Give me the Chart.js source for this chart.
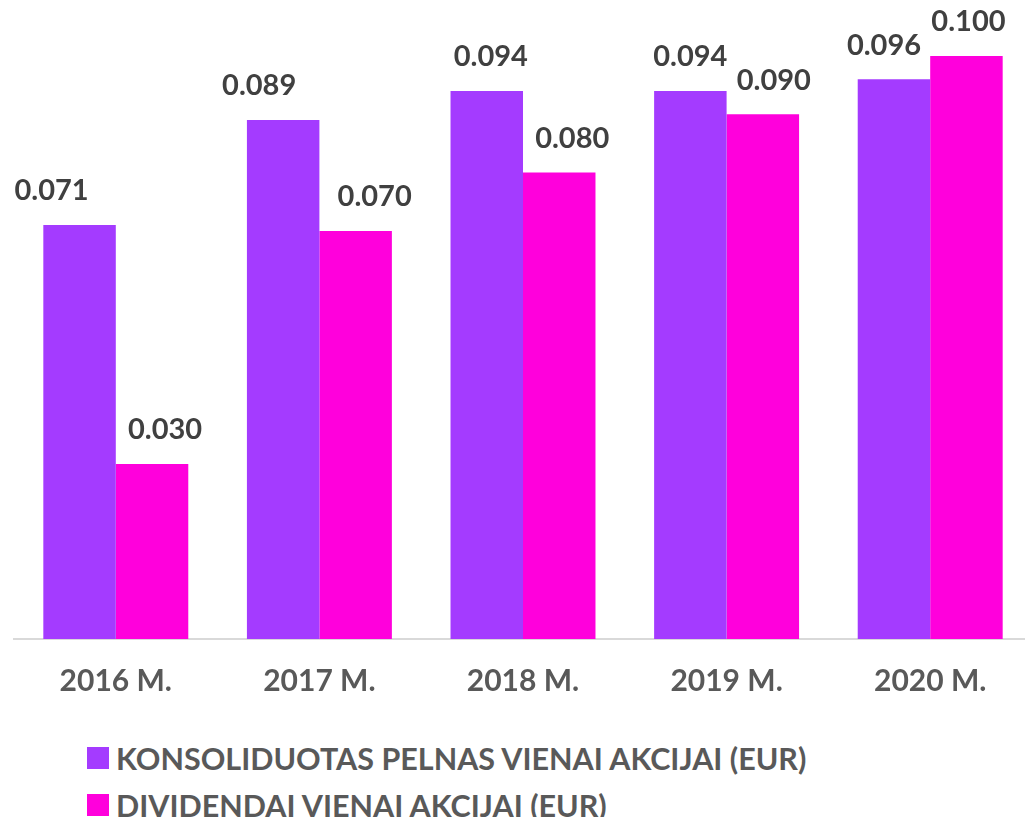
<!DOCTYPE html>
<html>
<head>
<meta charset="utf-8">
<script src="https://cdn.jsdelivr.net/npm/chart.js@4/dist/chart.umd.min.js"></script>
<style>
  html, body { margin: 0; padding: 0; background: #fff; overflow: hidden; }
  #wrap { position: absolute; left: 0; top: 0; width: 1040px; height: 724px; }
  #legend { position: absolute; left: 87px; top: 734px; font-family: Lato, sans-serif; font-weight: bold; font-size: 30.5px; color: #595959; }
  .item { height: 47px; display: flex; align-items: center; }
  .box { width: 22px; height: 22px; margin-right: 7px; }
</style>
</head>
<body>
<div id="wrap"><canvas id="chart"></canvas></div>
<div id="legend"></div>
<script>
// years on the x axis
var years = ["2016 M.", "2017 M.", "2018 M.", "2019 M.", "2020 M."];
// consolidated earnings per share
var earnings = [0.071, 0.089, 0.094, 0.094, 0.096];
// dividends per share
var dividends = [0.030, 0.070, 0.080, 0.090, 0.100];

var seriesNames = ["KONSOLIDUOTAS PELNAS VIENAI AKCIJAI (EUR)", "DIVIDENDAI VIENAI AKCIJAI (EUR)"];
var colors = ["#A43BFF", "#FF00DC"];
// small horizontal nudges of the value labels, like the original
var labelShift = [[-28, -24, 4, 0, -10], [13, 19, 13, 11, 2]];

/**
 * draws the value above every bar
 */
var valueLabels = {
    id: 'valueLabels',
    afterDatasetsDraw: function(chart) {
        var ctx = chart.ctx;
        ctx.save();
        ctx.font = "bold 29px Lato, sans-serif";
        ctx.fillStyle = "#404040";
        ctx.textAlign = "center";
        ctx.textBaseline = "middle";
        chart.data.datasets.forEach(function(ds, i) {
            var meta = chart.getDatasetMeta(i);
            meta.data.forEach(function(bar, j) {
                ctx.fillText(ds.data[j].toFixed(3), bar.x + labelShift[i][j], bar.y - 34);
            });
        });
        ctx.restore();
    }
};

var ctx = document.getElementById("chart").getContext('2d');
new Chart(ctx, {
    type: 'bar',
    data: {
        labels: years,
        datasets: [
            { label: seriesNames[0], data: earnings, backgroundColor: colors[0] },
            { label: seriesNames[1], data: dividends, backgroundColor: colors[1] }
        ]
    },
    options: {
        responsive: true,
        maintainAspectRatio: false,
        animation: false,
        categoryPercentage: 0.712,
        barPercentage: 1,
        layout: { padding: { left: 14, right: 8, top: 0, bottom: 1 } },
        plugins: { legend: { display: false }, tooltip: { enabled: false } },
        scales: {
            x: {
                grid: { display: false, drawTicks: false },
                border: { display: true, color: "#D9D9D9", width: 2 },
                ticks: { padding: 24, color: "#595959", font: { family: "Lato, sans-serif", size: 30, weight: "bold" } }
            },
            y: { display: false, min: 0, max: 0.1096 }
        }
    },
    plugins: [valueLabels]
});

// legend below the chart
var legend = document.getElementById("legend");
for (var i = 0; i < seriesNames.length; i++) {
    var el = document.createElement("div");
    el.className = "item";
    el.innerHTML = '<span class="box" style="background:' + colors[i] + '"></span>' + seriesNames[i];
    legend.appendChild(el);
}
</script>
</body>
</html>
